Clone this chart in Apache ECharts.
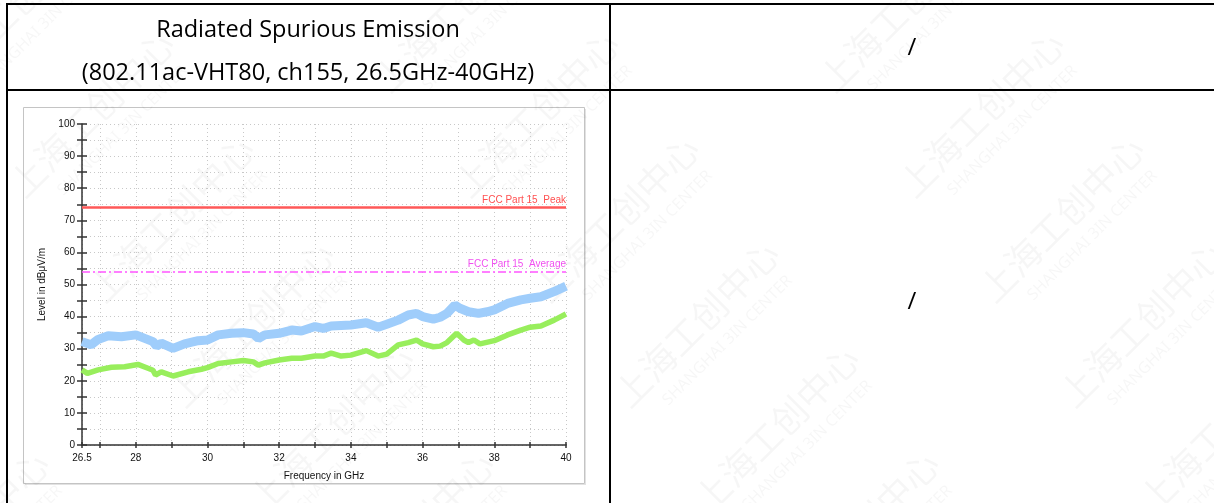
<!DOCTYPE html>
<html><head><meta charset="utf-8">
<script src="https://cdn.jsdelivr.net/npm/echarts@6/dist/echarts.min.js"></script>
<style>html,body{margin:0;padding:0;background:#fff}#main{width:1214px;height:503px}</style>
</head><body><div id="main"></div>
<script>
// ---- data ----
const titleLines = ['Radiated Spurious Emission', '(802.11ac-VHT80, ch155, 26.5GHz-40GHz)'];
const cellNote = '/';
const watermarkCN = '上海工创中心';
const watermarkEN = 'SHANGHAI 3IN CENTER';

const peakFreq = [26.5, 26.75, 26.95, 27.23, 27.6, 28.0, 28.25, 28.48, 28.58, 28.71, 29.04, 29.36, 29.74, 30.0, 30.3, 30.67, 31.0, 31.28, 31.42, 31.6, 32.0, 32.35, 32.62, 33.0, 33.23, 33.45, 34.0, 34.43, 34.76, 35.0, 35.32, 35.6, 35.83, 36.0, 36.3, 36.49, 36.68, 36.9, 37.04, 37.28, 37.56, 37.8, 38.0, 38.37, 38.74, 39.0, 39.3, 39.67, 40.0];
const peakLevel = [32.2, 31.2, 32.9, 34.0, 33.7, 34.3, 33.2, 32.2, 30.8, 31.7, 30.1, 31.5, 32.5, 32.7, 34.3, 34.8, 35.0, 34.6, 33.2, 34.3, 34.8, 35.8, 35.5, 36.9, 36.3, 37.1, 37.4, 38.1, 36.7, 37.6, 38.9, 40.5, 41.0, 40.0, 39.2, 39.8, 41.0, 43.6, 42.6, 41.5, 41.0, 41.5, 42.1, 44.1, 45.2, 45.7, 46.2, 47.8, 49.5];

const avgFreq = [26.5, 26.65, 26.95, 27.32, 27.69, 28.06, 28.34, 28.48, 28.55, 28.71, 29.04, 29.46, 29.83, 30.0, 30.3, 30.67, 31.0, 31.28, 31.42, 31.6, 32.0, 32.35, 32.62, 33.0, 33.23, 33.45, 33.73, 34.0, 34.43, 34.76, 35.0, 35.32, 35.6, 35.83, 36.0, 36.3, 36.49, 36.68, 36.95, 37.15, 37.28, 37.43, 37.6, 38.0, 38.37, 38.74, 39.0, 39.3, 39.67, 40.0];
const avgLevel = [23.4, 22.3, 23.4, 24.2, 24.4, 25.1, 23.9, 23.3, 21.8, 22.8, 21.5, 22.8, 23.6, 24.1, 25.4, 25.9, 26.3, 25.9, 24.9, 25.6, 26.5, 27.0, 27.0, 27.7, 27.7, 28.6, 27.7, 28.0, 29.4, 27.7, 28.3, 31.2, 31.9, 32.7, 31.5, 30.6, 30.8, 31.9, 34.8, 32.7, 31.9, 32.7, 31.5, 32.5, 34.3, 35.8, 36.7, 37.1, 38.9, 40.8];

const limitNames = ['FCC Part 15  Peak', 'FCC Part 15  Average'];
const limitLevels = [74, 54];

const xLabelValues = [26.5, 28, 30, 32, 34, 36, 38, 40];
const xTickValues = [26.5, 27, 28, 29, 30, 31, 32, 33, 34, 35, 36, 37, 38, 39, 40];
const xAxisName = 'Frequency in GHz';
const yAxisName = 'Level in dBμV/m';

// ---- chart ----
const chart = echarts.init(document.getElementById('main'), null, {renderer: 'canvas'});
const FONT = '"Liberation Sans", Arial, sans-serif';
const HFONT = '"Open Sans", "Liberation Sans", sans-serif';

const graphics = [];
// chart image frame
graphics.push({type: 'rect', z: -10, shape: {x: 23.5, y: 107.5, width: 561, height: 376},
  style: {fill: '#fff', stroke: '#c4c4c4', lineWidth: 1}});
graphics.push({type: 'line', z: -9, shape: {x1: 585.5, y1: 109, x2: 585.5, y2: 485}, style: {stroke: '#e2e2e2', lineWidth: 1}});
graphics.push({type: 'line', z: -9, shape: {x1: 25, y1: 484.5, x2: 586, y2: 484.5}, style: {stroke: '#e2e2e2', lineWidth: 1}});
// table lines
const tl = (x1, y1, x2, y2) => graphics.push({type: 'line', z: 50, shape: {x1, y1, x2, y2}, style: {stroke: '#000', lineWidth: 2}});
tl(6, 4, 1214, 4);
tl(7, 3, 7, 503);
tl(610, 3, 610, 503);
tl(6, 90, 1214, 90);
// header texts
graphics.push({type: 'text', z: 50, style: {text: titleLines[0], x: 308, y: 30, align: 'center', verticalAlign: 'middle', font: '23.5px ' + HFONT, fill: '#000'}});
graphics.push({type: 'text', z: 50, style: {text: titleLines[1], x: 308, y: 73, align: 'center', verticalAlign: 'middle', font: '23.5px ' + HFONT, fill: '#000'}});
graphics.push({type: 'text', z: 50, style: {text: cellNote, x: 912, y: 48, align: 'center', verticalAlign: 'middle', font: '24px ' + HFONT, fill: '#000'}});
graphics.push({type: 'text', z: 50, style: {text: cellNote, x: 912, y: 302, align: 'center', verticalAlign: 'middle', font: '24px ' + HFONT, fill: '#000'}});
// watermark (lattice)
for (let j = -6; j < 3; j++) {
  for (let i = -2; i < 4; i++) {
    const cx = 620 + i * 445 + j * 80;
    const cy = 400 + j * 105;
    graphics.push({type: 'group', z: 60, x: cx, y: cy, rotation: Math.PI / 4, silent: true, children: [
      {type: 'text', style: {text: watermarkCN, x: 0, y: 0, align: 'left', verticalAlign: 'middle', font: '36px "Noto Sans CJK SC"', fill: 'rgba(0,0,0,0.035)'}},
      {type: 'text', style: {text: watermarkEN, x: 30, y: 34, align: 'left', verticalAlign: 'middle', font: '16px "Noto Sans"', fill: 'rgba(0,0,0,0.035)'}}
    ]});
  }
}

const zip = (a, b) => a.map((v, i) => [v, b[i]]);

const option = {
  animation: false,
  backgroundColor: '#fff',
  textStyle: {fontFamily: FONT},
  grid: {left: 82, right: 648, top: 124, bottom: 58, containLabel: false},
  xAxis: [{
    type: 'value', min: 26.5, max: 40,
    name: xAxisName, nameLocation: 'middle', nameGap: 26,
    nameTextStyle: {fontSize: 10, color: '#111', fontFamily: FONT},
    axisLine: {show: true, onZero: false, lineStyle: {color: '#333', width: 1.5}},
    axisTick: {show: true, length: 3, customValues: xTickValues, lineStyle: {color: '#333', width: 1.5}},
    axisLabel: {customValues: xLabelValues, fontSize: 10, color: '#111', margin: 8, fontFamily: FONT},
    splitLine: {show: true, lineStyle: {color: '#c8c8c8', type: [1, 3], width: 1}}
  }, {
    type: 'value', min: 26.5, max: 40, position: 'bottom',
    axisLine: {show: false},
    axisTick: {show: true, inside: true, length: 3, customValues: xTickValues, lineStyle: {color: '#333', width: 1.5}},
    axisLabel: {show: false}, splitLine: {show: false}
  }],
  yAxis: [{
    type: 'value', min: 0, max: 100, interval: 5,
    name: yAxisName, nameLocation: 'middle', nameGap: 35, nameRotate: 90,
    nameTextStyle: {fontSize: 10, color: '#111', fontFamily: FONT},
    axisLine: {show: true, onZero: false, lineStyle: {color: '#333', width: 1.5}},
    axisTick: {show: true, length: 5, lineStyle: {color: '#333', width: 1.5}},
    axisLabel: {fontSize: 10, color: '#111', margin: 7, fontFamily: FONT, formatter: v => (v % 10 === 0 ? String(v) : '')},
    splitLine: {show: true, lineStyle: {color: '#c8c8c8', type: [1, 3], width: 1}}
  }, {
    type: 'value', min: 0, max: 100, interval: 5, position: 'left',
    axisLine: {show: false},
    axisTick: {show: true, inside: true, length: 5, lineStyle: {color: '#333', width: 1.5}},
    axisLabel: {show: false}, splitLine: {show: false}
  }],
  series: [
    {type: 'line', name: 'Peak', data: zip(peakFreq, peakLevel), showSymbol: false, symbol: 'none',
     lineStyle: {color: '#9fcdfb', width: 9}, z: 3},
    {type: 'line', name: 'Average', data: zip(avgFreq, avgLevel), showSymbol: false, symbol: 'none',
     lineStyle: {color: '#98ee5c', width: 5.5}, z: 4},
    {type: 'line', name: 'Limits', data: [], z: 5,
     markLine: {silent: true, symbol: 'none', animation: false,
      lineStyle: {color: '#ff55ff', width: 1.5},
      data: [
        {yAxis: limitLevels[0], name: limitNames[0], lineStyle: {color: '#ff5858', width: 2.5, type: 'solid'},
         label: {show: true, formatter: '{b}', position: 'insideEndTop', color: '#ff5050', fontSize: 10, distance: [0, 2], fontFamily: FONT}},
        {yAxis: limitLevels[1], name: limitNames[1], lineStyle: {color: '#ff55ff', width: 1.5, type: [8, 3, 2, 3]},
         label: {show: true, formatter: '{b}', position: 'insideEndTop', color: '#f050f0', fontSize: 10, distance: [0, 2], fontFamily: FONT}}
      ]}}
  ],
  graphic: graphics
};
chart.setOption(option);
</script></body></html>
